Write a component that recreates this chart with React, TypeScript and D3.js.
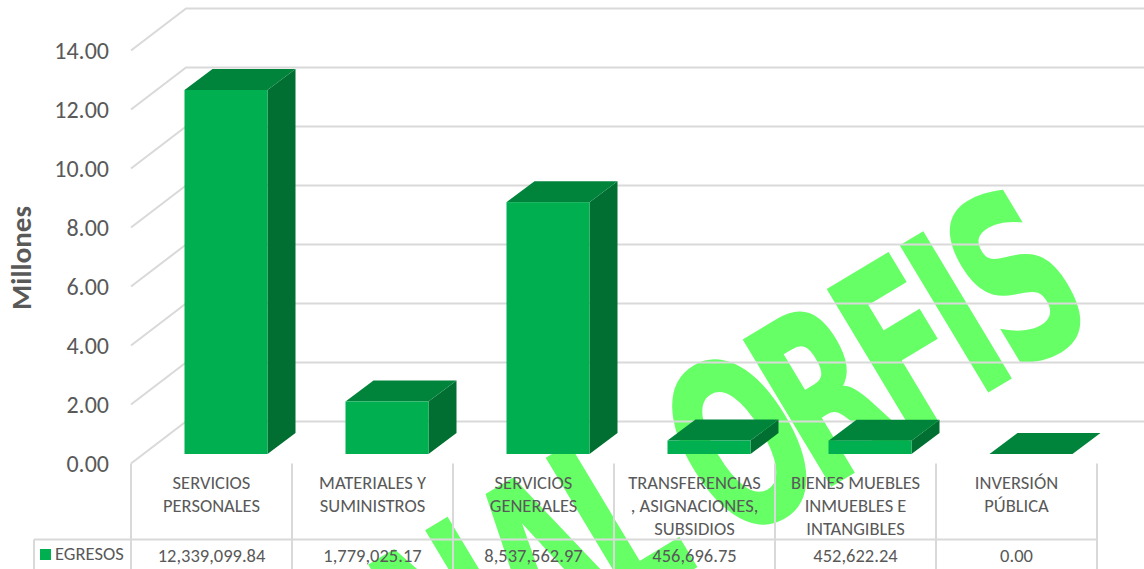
import React from 'react';
import * as d3 from 'd3';

const categories = [
  ['SERVICIOS', 'PERSONALES'],
  ['MATERIALES Y', 'SUMINISTROS'],
  ['SERVICIOS', 'GENERALES'],
  ['TRANSFERENCIAS', ', ASIGNACIONES,', 'SUBSIDIOS'],
  ['BIENES MUEBLES', 'INMUEBLES E', 'INTANGIBLES'],
  ['INVERSIÓN', 'PÚBLICA'],
];
const egresos = [12339099.84, 1779025.17, 8537562.97, 456696.75, 452622.24, 0];
const egresosLabels = ['12,339,099.84', '1,779,025.17', '8,537,562.97', '456,696.75', '452,622.24', '0.00'];
const yTicks = [0, 2, 4, 6, 8, 10, 12, 14];

const FONT = 'Carlito, Lato, "Open Sans", sans-serif';
const GRID = '#d9d9d9';
const TEXT = '#595959';

// watermark letter offsets along its baseline, px on screen (one per character)
const markText = 'FINAL ORFIS';
const markOffsets = [-772, -682, -632, -521, -425, -360, -298, -195, -97, -12, 33];
const markStretch = 0.6;

const App: React.FC = () => {
  const width = 1144;
  const height = 569;

  const x = d3.scaleBand<number>().domain(d3.range(categories.length)).range([131, 1097]);
  const y = d3.scaleLinear().domain([0, 14]).range([463.5, 50.5]);
  const barY = d3.scaleLinear().domain([0, 14]).range([454, 41]);
  const depth = { dx: 28, dy: -21 };
  const wall = { dx: 55, dy: -42 };
  const barW = 83;

  return (
    <svg width={width} height={height} style={{ position: 'fixed', left: 0, top: 0, background: '#fff' }}>
      {/* watermark sits behind the chart */}
      <text
        transform={`translate(987.5,391.7) rotate(-31) scale(${markStretch},1)`}
        x={markOffsets.map((d) => d / markStretch).join(' ')}
        fontFamily='"DejaVu Sans", sans-serif'
        fontWeight="bold"
        fontSize={233}
        fill="#66ff66"
        stroke="#66ff66"
        strokeWidth={2}
      >
        {markText}
      </text>

      {/* gridlines */}
      {yTicks.map((t) => (
        <g key={t}>
          <path
            d={`M${x(0)},${y(t)}L${x(0)! + wall.dx},${y(t) + wall.dy}H${width}`}
            fill="none"
            stroke={GRID}
            strokeWidth={2}
          />
          <text x={109} y={y(t) + 1} dy="0.33em" textAnchor="end" fontFamily={FONT} fontSize={24} fill={TEXT}>
            {d3.format('.2f')(t)}
          </text>
        </g>
      ))}
      <text
        transform="translate(21,258) rotate(-90)"
        textAnchor="middle"
        dy="0.33em"
        fontFamily={FONT}
        fontWeight="bold"
        fontSize={29}
        fill={TEXT}
      >
        Millones
      </text>

      {/* bars */}
      {egresos.map((v, i) => {
        const x0 = x(i)! + 53.5;
        const x1 = x0 + barW;
        const y0 = barY(0);
        const y1 = barY(v / 1e6);
        const { dx, dy } = depth;
        return (
          <g key={i}>
            <path d={`M${x1},${y0}L${x1 + dx},${y0 + dy}V${y1 + dy}L${x1},${y1}Z`} fill="#006f31" />
            <path d={`M${x0},${y1}L${x0 + dx},${y1 + dy}H${x1 + dx}L${x1},${y1}Z`} fill="#00843b" />
            <rect x={x0} y={y1} width={barW} height={y0 - y1} fill="#00b050" />
          </g>
        );
      })}

      {/* data table */}
      <g stroke={GRID} strokeWidth={2}>
        {d3.range(categories.length + 1).map((i) => {
          const px = i < categories.length ? x(i)! : x.range()[1];
          return <line key={i} x1={px} x2={px} y1={463.5} y2={height} />;
        })}
        <line x1={34} x2={34} y1={539.5} y2={height} />
        <line x1={34} x2={1097} y1={539.5} y2={539.5} />
      </g>
      {categories.map((lines, i) => (
        <text
          key={i}
          x={x(i)! + x.bandwidth() / 2}
          textAnchor="middle"
          fontFamily={FONT}
          fontSize={18.5}
          fill={TEXT}
        >
          {lines.map((l, j) => (
            <tspan key={j} x={x(i)! + x.bandwidth() / 2} y={489 + j * 23}>
              {l}
            </tspan>
          ))}
        </text>
      ))}
      <rect x={40} y={549} width={11} height={11} fill="#00b050" />
      <text x={55} y={560} fontFamily={FONT} fontSize={18.5} fill={TEXT}>
        EGRESOS
      </text>
      {egresosLabels.map((l, i) => (
        <text
          key={i}
          x={x(i)! + x.bandwidth() / 2}
          y={561.5}
          textAnchor="middle"
          fontFamily={FONT}
          fontSize={18.5}
          fill={TEXT}
        >
          {l}
        </text>
      ))}
    </svg>
  );
};

export default App;
